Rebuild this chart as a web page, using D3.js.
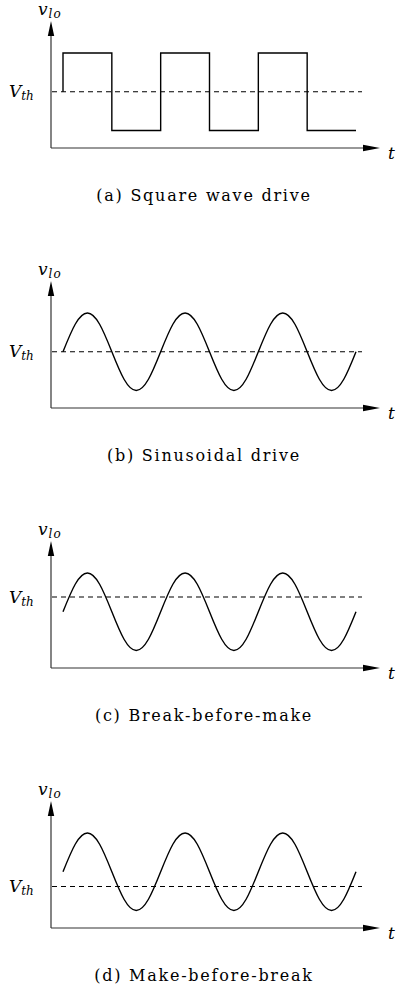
<!DOCTYPE html>
<html>
<head>
<meta charset="utf-8">
<script src="https://cdn.jsdelivr.net/npm/d3@7"></script>
<style>
  html, body { margin: 0; padding: 0; background: #fff; }
  svg { display: block; }
  .cap { font-family: "DejaVu Serif", "Liberation Serif", serif; font-size: 16px; fill: #000; }
  .math { font-family: "DejaVu Serif", "Liberation Serif", serif; font-style: italic; fill: #000; }
</style>
</head>
<body>
<script>
// Panel captions and threshold level (in units of the drive amplitude)
const captions = ["(a) Square wave drive", "(b) Sinusoidal drive", "(c) Break-before-make", "(d) Make-before-break"];
const driveKind = ["square", "sine", "sine", "sine"];
const thresholds = [0, 0, 0.38, -0.38];

// Square-wave drive: time in periods, level in amplitude units
const squareTimes  = [0, 0, 0.5, 0.5, 1, 1, 1.5, 1.5, 2, 2, 2.5, 2.5, 3];
const squareLevels = [0, 1, 1, -1, -1, 1, 1, -1, -1, 1, 1, -1, -1];

// Sinusoidal drive sampled every eighth of a period over three periods
const sineTimes  = [0, 0.125, 0.25, 0.375, 0.5, 0.625, 0.75, 0.875,
                    1, 1.125, 1.25, 1.375, 1.5, 1.625, 1.75, 1.875,
                    2, 2.125, 2.25, 2.375, 2.5, 2.625, 2.75, 2.875, 3];
const sineLevels = [0, 0.71, 1, 0.71, 0, -0.71, -1, -0.71,
                    0, 0.71, 1, 0.71, 0, -0.71, -1, -0.71,
                    0, 0.71, 1, 0.71, 0, -0.71, -1, -0.71, 0];

const W = 396, H = 992;
const svg = d3.select("body").append("svg").attr("width", W).attr("height", H);

const panelStep = 260;
const axisLeft = 51, axisRight = 380;

const x = d3.scaleLinear().domain([0, 3]).range([63, 356]);

const series = {
  square: squareTimes.map((t, i) => ({ t, v: squareLevels[i] })),
  sine: sineTimes.map((t, i) => ({ t, v: sineLevels[i] }))
};

captions.forEach((cap, i) => {
  const axisY = 148 + i * panelStep;
  const y = d3.scaleLinear().domain([-1, 1]).range([axisY - 17.5, axisY - 95]);
  const g = svg.append("g");

  // axes
  g.append("line")
    .attr("x1", axisLeft).attr("x2", axisLeft)
    .attr("y1", axisY).attr("y2", axisY - 115)
    .attr("stroke", "#333").attr("stroke-width", 1.2);
  g.append("line")
    .attr("x1", axisLeft).attr("x2", axisRight - 14)
    .attr("y1", axisY).attr("y2", axisY)
    .attr("stroke", "#333").attr("stroke-width", 1.2);
  // arrowheads
  const tipY = axisY - 127;
  g.append("path")
    .attr("d", `M${axisLeft},${tipY} L${axisLeft + 3.2},${tipY + 15} L${axisLeft - 3.2},${tipY + 15} Z`)
    .attr("fill", "#000");
  g.append("path")
    .attr("d", `M${axisRight},${axisY} L${axisRight - 17},${axisY + 3.2} L${axisRight - 17},${axisY - 3.2} Z`)
    .attr("fill", "#000");

  // threshold
  const vth = thresholds[i];
  g.append("line")
    .attr("x1", axisLeft + 1).attr("x2", 362)
    .attr("y1", y(vth)).attr("y2", y(vth))
    .attr("stroke", "#000").attr("stroke-width", 1.1)
    .attr("stroke-dasharray", "5,4");

  // waveform
  const kind = driveKind[i];
  const line = d3.line()
    .x(d => x(d.t)).y(d => y(d.v))
    .curve(kind === "square" ? d3.curveLinear : d3.curveNatural);
  g.append("path")
    .datum(series[kind])
    .attr("d", line)
    .attr("fill", "none")
    .attr("stroke", "#000")
    .attr("stroke-width", 1.4)
    .attr("stroke-linejoin", "miter");

  // labels
  const vlo = g.append("text").attr("class", "math")
    .attr("x", 38).attr("y", axisY - 133).attr("font-size", 17);
  vlo.append("tspan").text("v");
  vlo.append("tspan").attr("font-size", 12).attr("dy", 3).attr("dx", 1).attr("letter-spacing", 1).text("lo");

  const vt = g.append("text").attr("class", "math")
    .attr("x", 9).attr("y", y(vth) + 5.5).attr("font-size", 17);
  vt.append("tspan").text("V");
  vt.append("tspan").attr("font-size", 12).attr("dy", 3).attr("dx", 0).text("th");

  g.append("text").attr("class", "math")
    .attr("x", 388).attr("y", axisY + 11).attr("font-size", 17).text("t");

  g.append("text").attr("class", "cap")
    .attr("x", 204).attr("y", axisY + 53)
    .attr("text-anchor", "middle")
    .attr("letter-spacing", 1.75)
    .text(cap);
});
</script>
</body>
</html>
